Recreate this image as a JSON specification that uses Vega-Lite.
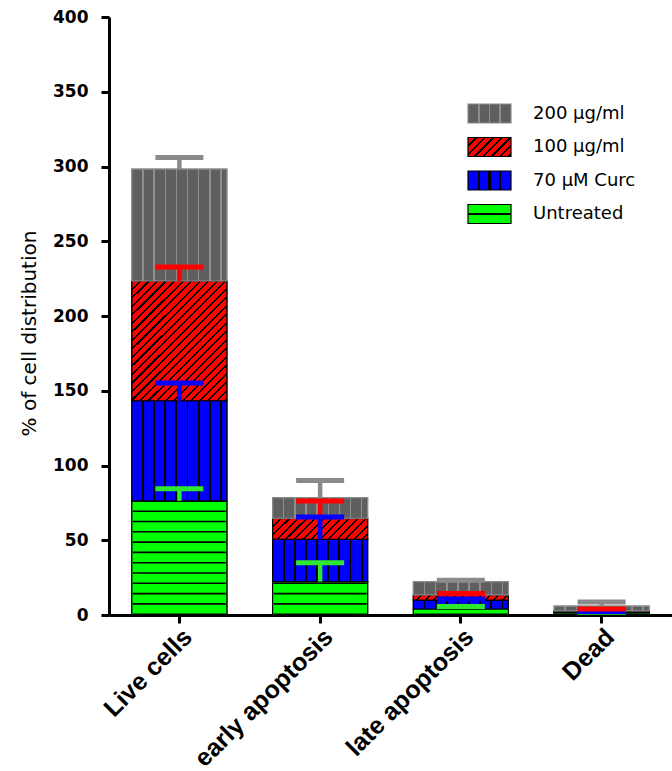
{
  "$schema": "https://vega.github.io/schema/vega-lite/v6.json",
  "width": 563,
  "height": 598,
  "autosize": {"type": "none"},
  "padding": {"left": 109, "top": 17, "right": 0, "bottom": 156},
  "background": "white",
  "data": {
    "values": [
      {"cat": "Live cells", "series": "Untreated", "rank": 1, "value": 76.3, "err": 8.2},
      {"cat": "Live cells", "series": "70 µM Curc", "rank": 2, "value": 67.0, "err": 11.9},
      {"cat": "Live cells", "series": "100 µg/ml", "rank": 3, "value": 80.1, "err": 9.4},
      {"cat": "Live cells", "series": "200 µg/ml", "rank": 4, "value": 74.9, "err": 7.7},
      {"cat": "early apoptosis", "series": "Untreated", "rank": 1, "value": 22.3, "err": 12.7},
      {"cat": "early apoptosis", "series": "70 µM Curc", "rank": 2, "value": 28.3, "err": 14.9},
      {"cat": "early apoptosis", "series": "100 µg/ml", "rank": 3, "value": 14.1, "err": 11.6},
      {"cat": "early apoptosis", "series": "200 µg/ml", "rank": 4, "value": 13.8, "err": 11.5},
      {"cat": "late apoptosis", "series": "Untreated", "rank": 1, "value": 4.0, "err": 1.7},
      {"cat": "late apoptosis", "series": "70 µM Curc", "rank": 2, "value": 6.0, "err": 0.7},
      {"cat": "late apoptosis", "series": "100 µg/ml", "rank": 3, "value": 3.4, "err": 1.0},
      {"cat": "late apoptosis", "series": "200 µg/ml", "rank": 4, "value": 8.9, "err": 1.0},
      {"cat": "Dead", "series": "Untreated", "rank": 1, "value": 1.5, "err": 0.3},
      {"cat": "Dead", "series": "70 µM Curc", "rank": 2, "value": 0.6, "err": 0.3},
      {"cat": "Dead", "series": "100 µg/ml", "rank": 3, "value": 0.6, "err": 1.3},
      {"cat": "Dead", "series": "200 µg/ml", "rank": 4, "value": 3.3, "err": 2.7}
    ]
  },
  "transform": [
    {"stack": "value", "groupby": ["cat"], "sort": [{"field": "rank", "order": "ascending"}], "as": ["y0", "y1"]},
    {"calculate": "datum.y1 + datum.err", "as": "top"}
  ],
  "encoding": {
    "x": {
      "field": "cat", "type": "nominal",
      "sort": ["Live cells", "early apoptosis", "late apoptosis", "Dead"],
      "scale": {"paddingInner": 0.325, "paddingOuter": 0.1625},
      "title": null
    }
  },
  "layer": [
    {
      "mark": {"type": "bar", "strokeWidth": 1.2},
      "encoding": {
        "y": {"field": "y1", "type": "quantitative", "scale": {"domain": [0, 400], "nice": false}, "title": "% of cell distribution",
              "axis": {"values": [0, 50, 100, 150, 200, 250, 300, 350, 400], "titleY": 316}},
        "y2": {"field": "y0"},
        "fill": {
          "field": "series", "type": "nominal",
          "scale": {
            "domain": ["200 µg/ml", "100 µg/ml", "70 µM Curc", "Untreated"],
            "range": [
              {"expr": "{gradient:'linear',x1:0,y1:0,x2:1,y2:0,stops:[{offset:0,color:'#5f5f5f'},{offset:0.23,color:'#5f5f5f'},{offset:0.23,color:'#8e8e8e'},{offset:0.27,color:'#8e8e8e'},{offset:0.27,color:'#5f5f5f'},{offset:0.48,color:'#5f5f5f'},{offset:0.48,color:'#8e8e8e'},{offset:0.52,color:'#8e8e8e'},{offset:0.52,color:'#5f5f5f'},{offset:0.73,color:'#5f5f5f'},{offset:0.73,color:'#8e8e8e'},{offset:0.77,color:'#8e8e8e'},{offset:0.77,color:'#5f5f5f'},{offset:1,color:'#5f5f5f'}]}"},
              {"expr": "{gradient:'linear',x1:0,y1:0,x2:1.206,y2:0.533,stops:[{offset:0,color:'#ff0000'},{offset:0.12,color:'#ff0000'},{offset:0.12,color:'#000000'},{offset:0.154,color:'#000000'},{offset:0.154,color:'#ff0000'},{offset:0.257,color:'#ff0000'},{offset:0.257,color:'#000000'},{offset:0.291,color:'#000000'},{offset:0.291,color:'#ff0000'},{offset:0.394,color:'#ff0000'},{offset:0.394,color:'#000000'},{offset:0.428,color:'#000000'},{offset:0.428,color:'#ff0000'},{offset:0.531,color:'#ff0000'},{offset:0.531,color:'#000000'},{offset:0.565,color:'#000000'},{offset:0.565,color:'#ff0000'},{offset:0.668,color:'#ff0000'},{offset:0.668,color:'#000000'},{offset:0.702,color:'#000000'},{offset:0.702,color:'#ff0000'},{offset:0.806,color:'#ff0000'},{offset:0.806,color:'#000000'},{offset:0.84,color:'#000000'},{offset:0.84,color:'#ff0000'},{offset:0.943,color:'#ff0000'},{offset:0.943,color:'#000000'},{offset:0.977,color:'#000000'},{offset:0.977,color:'#ff0000'},{offset:1,color:'#ff0000'}]}"},
              {"expr": "{gradient:'linear',x1:0,y1:0,x2:1,y2:0,stops:[{offset:0,color:'#0000ff'},{offset:0.225,color:'#0000ff'},{offset:0.225,color:'#000000'},{offset:0.275,color:'#000000'},{offset:0.275,color:'#0000ff'},{offset:0.475,color:'#0000ff'},{offset:0.475,color:'#000000'},{offset:0.525,color:'#000000'},{offset:0.525,color:'#0000ff'},{offset:0.725,color:'#0000ff'},{offset:0.725,color:'#000000'},{offset:0.775,color:'#000000'},{offset:0.775,color:'#0000ff'},{offset:1,color:'#0000ff'}]}"},
              {"expr": "{gradient:'linear',x1:0.5,y1:0,x2:0.5,y2:1,stops:[{offset:0,color:'#00ff00'},{offset:0.45,color:'#00ff00'},{offset:0.45,color:'#000000'},{offset:0.55,color:'#000000'},{offset:0.55,color:'#00ff00'},{offset:1,color:'#00ff00'}]}"}
            ]
          },
          "legend": {
            "orient": "none", "legendX": 370, "legendY": 86, "title": null, "padding": 0,
            "symbolType": "M-2.263,-1H2.263V1H-2.263Z", "symbolSize": 361, "symbolStrokeWidth": 1.2,
            "labelFont": "DejaVu Sans", "labelFontSize": 18, "labelColor": "#000", "labelOffset": 33, "rowPadding": 8.5
          }
        },
        "stroke": {
          "field": "series", "type": "nominal",
          "scale": {"domain": ["200 µg/ml", "100 µg/ml", "70 µM Curc", "Untreated"], "range": ["#8c8c8c", "#000000", "#000000", "#000000"]},
          "legend": {
            "orient": "none", "legendX": 370, "legendY": 86, "title": null, "padding": 0,
            "symbolType": "M-2.263,-1H2.263V1H-2.263Z", "symbolSize": 361, "symbolStrokeWidth": 1.2,
            "labelFont": "DejaVu Sans", "labelFontSize": 18, "labelColor": "#000", "labelOffset": 33, "rowPadding": 8.5
          }
        }
      }
    },
    {
      "mark": {"type": "bar", "strokeWidth": 1.2},
      "encoding": {
        "y": {"field": "y1", "type": "quantitative", "scale": {"domain": [0, 400], "nice": false}, "title": "% of cell distribution"},
        "y2": {"field": "y0"},
        "fill": {
          "condition": [
            {"test": "datum.series === '200 µg/ml'", "value": {"gradient": "linear", "x1": 0, "y1": 0, "x2": 1, "y2": 0, "stops": [
              {"offset": 0, "color": "#5f5f5f"},
              {"offset": 0.109, "color": "#5f5f5f"}, {"offset": 0.109, "color": "#8e8e8e"}, {"offset": 0.125, "color": "#8e8e8e"}, {"offset": 0.125, "color": "#5f5f5f"},
              {"offset": 0.226, "color": "#5f5f5f"}, {"offset": 0.226, "color": "#8e8e8e"}, {"offset": 0.242, "color": "#8e8e8e"}, {"offset": 0.242, "color": "#5f5f5f"},
              {"offset": 0.344, "color": "#5f5f5f"}, {"offset": 0.344, "color": "#8e8e8e"}, {"offset": 0.36, "color": "#8e8e8e"}, {"offset": 0.36, "color": "#5f5f5f"},
              {"offset": 0.461, "color": "#5f5f5f"}, {"offset": 0.461, "color": "#8e8e8e"}, {"offset": 0.477, "color": "#8e8e8e"}, {"offset": 0.477, "color": "#5f5f5f"},
              {"offset": 0.578, "color": "#5f5f5f"}, {"offset": 0.578, "color": "#8e8e8e"}, {"offset": 0.594, "color": "#8e8e8e"}, {"offset": 0.594, "color": "#5f5f5f"},
              {"offset": 0.695, "color": "#5f5f5f"}, {"offset": 0.695, "color": "#8e8e8e"}, {"offset": 0.711, "color": "#8e8e8e"}, {"offset": 0.711, "color": "#5f5f5f"},
              {"offset": 0.812, "color": "#5f5f5f"}, {"offset": 0.812, "color": "#8e8e8e"}, {"offset": 0.828, "color": "#8e8e8e"}, {"offset": 0.828, "color": "#5f5f5f"},
              {"offset": 0.93, "color": "#5f5f5f"}, {"offset": 0.93, "color": "#8e8e8e"}, {"offset": 0.946, "color": "#8e8e8e"}, {"offset": 0.946, "color": "#5f5f5f"},
              {"offset": 1, "color": "#5f5f5f"}]}},
            {"test": "datum.series === '70 µM Curc'", "value": {"gradient": "linear", "x1": 0, "y1": 0, "x2": 1, "y2": 0, "stops": [
              {"offset": 0, "color": "#0000ff"},
              {"offset": 0.107, "color": "#0000ff"}, {"offset": 0.107, "color": "#000000"}, {"offset": 0.127, "color": "#000000"}, {"offset": 0.127, "color": "#0000ff"},
              {"offset": 0.224, "color": "#0000ff"}, {"offset": 0.224, "color": "#000000"}, {"offset": 0.244, "color": "#000000"}, {"offset": 0.244, "color": "#0000ff"},
              {"offset": 0.342, "color": "#0000ff"}, {"offset": 0.342, "color": "#000000"}, {"offset": 0.362, "color": "#000000"}, {"offset": 0.362, "color": "#0000ff"},
              {"offset": 0.459, "color": "#0000ff"}, {"offset": 0.459, "color": "#000000"}, {"offset": 0.479, "color": "#000000"}, {"offset": 0.479, "color": "#0000ff"},
              {"offset": 0.576, "color": "#0000ff"}, {"offset": 0.576, "color": "#000000"}, {"offset": 0.596, "color": "#000000"}, {"offset": 0.596, "color": "#0000ff"},
              {"offset": 0.693, "color": "#0000ff"}, {"offset": 0.693, "color": "#000000"}, {"offset": 0.713, "color": "#000000"}, {"offset": 0.713, "color": "#0000ff"},
              {"offset": 0.81, "color": "#0000ff"}, {"offset": 0.81, "color": "#000000"}, {"offset": 0.83, "color": "#000000"}, {"offset": 0.83, "color": "#0000ff"},
              {"offset": 0.928, "color": "#0000ff"}, {"offset": 0.928, "color": "#000000"}, {"offset": 0.948, "color": "#000000"}, {"offset": 0.948, "color": "#0000ff"},
              {"offset": 1, "color": "#0000ff"}]}},
            {"test": "datum.series === 'Untreated'", "value": "#00ff00"},
            {"test": "datum.cat === 'Live cells'", "value": {"gradient": "linear", "x1": 0, "y1": 0, "x2": 0.8703, "y2": 1.1025, "stops": [
              {"offset": 0, "color": "#ff0000"},
              {"offset": 0.0347, "color": "#ff0000"}, {"offset": 0.0347, "color": "#000000"}, {"offset": 0.0447, "color": "#000000"}, {"offset": 0.0447, "color": "#ff0000"},
              {"offset": 0.0744, "color": "#ff0000"}, {"offset": 0.0744, "color": "#000000"}, {"offset": 0.0844, "color": "#000000"}, {"offset": 0.0844, "color": "#ff0000"},
              {"offset": 0.114, "color": "#ff0000"}, {"offset": 0.114, "color": "#000000"}, {"offset": 0.124, "color": "#000000"}, {"offset": 0.124, "color": "#ff0000"},
              {"offset": 0.1537, "color": "#ff0000"}, {"offset": 0.1537, "color": "#000000"}, {"offset": 0.1637, "color": "#000000"}, {"offset": 0.1637, "color": "#ff0000"},
              {"offset": 0.1934, "color": "#ff0000"}, {"offset": 0.1934, "color": "#000000"}, {"offset": 0.2034, "color": "#000000"}, {"offset": 0.2034, "color": "#ff0000"},
              {"offset": 0.2331, "color": "#ff0000"}, {"offset": 0.2331, "color": "#000000"}, {"offset": 0.2431, "color": "#000000"}, {"offset": 0.2431, "color": "#ff0000"},
              {"offset": 0.2728, "color": "#ff0000"}, {"offset": 0.2728, "color": "#000000"}, {"offset": 0.2828, "color": "#000000"}, {"offset": 0.2828, "color": "#ff0000"},
              {"offset": 0.3124, "color": "#ff0000"}, {"offset": 0.3124, "color": "#000000"}, {"offset": 0.3224, "color": "#000000"}, {"offset": 0.3224, "color": "#ff0000"},
              {"offset": 0.3521, "color": "#ff0000"}, {"offset": 0.3521, "color": "#000000"}, {"offset": 0.3621, "color": "#000000"}, {"offset": 0.3621, "color": "#ff0000"},
              {"offset": 0.3918, "color": "#ff0000"}, {"offset": 0.3918, "color": "#000000"}, {"offset": 0.4018, "color": "#000000"}, {"offset": 0.4018, "color": "#ff0000"},
              {"offset": 0.4315, "color": "#ff0000"}, {"offset": 0.4315, "color": "#000000"}, {"offset": 0.4415, "color": "#000000"}, {"offset": 0.4415, "color": "#ff0000"},
              {"offset": 0.4712, "color": "#ff0000"}, {"offset": 0.4712, "color": "#000000"}, {"offset": 0.4812, "color": "#000000"}, {"offset": 0.4812, "color": "#ff0000"},
              {"offset": 0.5108, "color": "#ff0000"}, {"offset": 0.5108, "color": "#000000"}, {"offset": 0.5208, "color": "#000000"}, {"offset": 0.5208, "color": "#ff0000"},
              {"offset": 0.5505, "color": "#ff0000"}, {"offset": 0.5505, "color": "#000000"}, {"offset": 0.5605, "color": "#000000"}, {"offset": 0.5605, "color": "#ff0000"},
              {"offset": 0.5902, "color": "#ff0000"}, {"offset": 0.5902, "color": "#000000"}, {"offset": 0.6002, "color": "#000000"}, {"offset": 0.6002, "color": "#ff0000"},
              {"offset": 0.6299, "color": "#ff0000"}, {"offset": 0.6299, "color": "#000000"}, {"offset": 0.6399, "color": "#000000"}, {"offset": 0.6399, "color": "#ff0000"},
              {"offset": 0.6696, "color": "#ff0000"}, {"offset": 0.6696, "color": "#000000"}, {"offset": 0.6796, "color": "#000000"}, {"offset": 0.6796, "color": "#ff0000"},
              {"offset": 0.7092, "color": "#ff0000"}, {"offset": 0.7092, "color": "#000000"}, {"offset": 0.7192, "color": "#000000"}, {"offset": 0.7192, "color": "#ff0000"},
              {"offset": 0.7489, "color": "#ff0000"}, {"offset": 0.7489, "color": "#000000"}, {"offset": 0.7589, "color": "#000000"}, {"offset": 0.7589, "color": "#ff0000"},
              {"offset": 0.7886, "color": "#ff0000"}, {"offset": 0.7886, "color": "#000000"}, {"offset": 0.7986, "color": "#000000"}, {"offset": 0.7986, "color": "#ff0000"},
              {"offset": 0.8283, "color": "#ff0000"}, {"offset": 0.8283, "color": "#000000"}, {"offset": 0.8383, "color": "#000000"}, {"offset": 0.8383, "color": "#ff0000"},
              {"offset": 0.868, "color": "#ff0000"}, {"offset": 0.868, "color": "#000000"}, {"offset": 0.878, "color": "#000000"}, {"offset": 0.878, "color": "#ff0000"},
              {"offset": 0.9076, "color": "#ff0000"}, {"offset": 0.9076, "color": "#000000"}, {"offset": 0.9176, "color": "#000000"}, {"offset": 0.9176, "color": "#ff0000"},
              {"offset": 0.9473, "color": "#ff0000"}, {"offset": 0.9473, "color": "#000000"}, {"offset": 0.9573, "color": "#000000"}, {"offset": 0.9573, "color": "#ff0000"},
              {"offset": 0.987, "color": "#ff0000"}, {"offset": 0.987, "color": "#000000"}, {"offset": 0.997, "color": "#000000"}, {"offset": 0.997, "color": "#ff0000"},
              {"offset": 1, "color": "#ff0000"}]}},
            {"test": "datum.cat === 'early apoptosis'", "value": {"gradient": "linear", "x1": 0, "y1": 0, "x2": 1.1652, "y2": 0.2602, "stops": [
              {"offset": 0, "color": "#ff0000"},
              {"offset": 0.0645, "color": "#ff0000"}, {"offset": 0.0645, "color": "#000000"}, {"offset": 0.0825, "color": "#000000"}, {"offset": 0.0825, "color": "#ff0000"},
              {"offset": 0.1381, "color": "#ff0000"}, {"offset": 0.1381, "color": "#000000"}, {"offset": 0.1561, "color": "#000000"}, {"offset": 0.1561, "color": "#ff0000"},
              {"offset": 0.2116, "color": "#ff0000"}, {"offset": 0.2116, "color": "#000000"}, {"offset": 0.2296, "color": "#000000"}, {"offset": 0.2296, "color": "#ff0000"},
              {"offset": 0.2851, "color": "#ff0000"}, {"offset": 0.2851, "color": "#000000"}, {"offset": 0.3031, "color": "#000000"}, {"offset": 0.3031, "color": "#ff0000"},
              {"offset": 0.3586, "color": "#ff0000"}, {"offset": 0.3586, "color": "#000000"}, {"offset": 0.3766, "color": "#000000"}, {"offset": 0.3766, "color": "#ff0000"},
              {"offset": 0.4322, "color": "#ff0000"}, {"offset": 0.4322, "color": "#000000"}, {"offset": 0.4502, "color": "#000000"}, {"offset": 0.4502, "color": "#ff0000"},
              {"offset": 0.5057, "color": "#ff0000"}, {"offset": 0.5057, "color": "#000000"}, {"offset": 0.5237, "color": "#000000"}, {"offset": 0.5237, "color": "#ff0000"},
              {"offset": 0.5792, "color": "#ff0000"}, {"offset": 0.5792, "color": "#000000"}, {"offset": 0.5972, "color": "#000000"}, {"offset": 0.5972, "color": "#ff0000"},
              {"offset": 0.6528, "color": "#ff0000"}, {"offset": 0.6528, "color": "#000000"}, {"offset": 0.6708, "color": "#000000"}, {"offset": 0.6708, "color": "#ff0000"},
              {"offset": 0.7263, "color": "#ff0000"}, {"offset": 0.7263, "color": "#000000"}, {"offset": 0.7443, "color": "#000000"}, {"offset": 0.7443, "color": "#ff0000"},
              {"offset": 0.7998, "color": "#ff0000"}, {"offset": 0.7998, "color": "#000000"}, {"offset": 0.8178, "color": "#000000"}, {"offset": 0.8178, "color": "#ff0000"},
              {"offset": 0.8734, "color": "#ff0000"}, {"offset": 0.8734, "color": "#000000"}, {"offset": 0.8914, "color": "#000000"}, {"offset": 0.8914, "color": "#ff0000"},
              {"offset": 0.9469, "color": "#ff0000"}, {"offset": 0.9469, "color": "#000000"}, {"offset": 0.9649, "color": "#000000"}, {"offset": 0.9649, "color": "#ff0000"},
              {"offset": 1, "color": "#ff0000"}]}},
            {"test": "datum.cat === 'late apoptosis'", "value": {"gradient": "linear", "x1": 0, "y1": 0, "x2": 1.0509, "y2": 0.0567, "stops": [
              {"offset": 0, "color": "#ff0000"},
              {"offset": 0.0748, "color": "#ff0000"}, {"offset": 0.0748, "color": "#000000"}, {"offset": 0.0958, "color": "#000000"}, {"offset": 0.0958, "color": "#ff0000"},
              {"offset": 0.1602, "color": "#ff0000"}, {"offset": 0.1602, "color": "#000000"}, {"offset": 0.1812, "color": "#000000"}, {"offset": 0.1812, "color": "#ff0000"},
              {"offset": 0.2455, "color": "#ff0000"}, {"offset": 0.2455, "color": "#000000"}, {"offset": 0.2665, "color": "#000000"}, {"offset": 0.2665, "color": "#ff0000"},
              {"offset": 0.3309, "color": "#ff0000"}, {"offset": 0.3309, "color": "#000000"}, {"offset": 0.3519, "color": "#000000"}, {"offset": 0.3519, "color": "#ff0000"},
              {"offset": 0.4162, "color": "#ff0000"}, {"offset": 0.4162, "color": "#000000"}, {"offset": 0.4372, "color": "#000000"}, {"offset": 0.4372, "color": "#ff0000"},
              {"offset": 0.5015, "color": "#ff0000"}, {"offset": 0.5015, "color": "#000000"}, {"offset": 0.5225, "color": "#000000"}, {"offset": 0.5225, "color": "#ff0000"},
              {"offset": 0.5869, "color": "#ff0000"}, {"offset": 0.5869, "color": "#000000"}, {"offset": 0.6079, "color": "#000000"}, {"offset": 0.6079, "color": "#ff0000"},
              {"offset": 0.6722, "color": "#ff0000"}, {"offset": 0.6722, "color": "#000000"}, {"offset": 0.6932, "color": "#000000"}, {"offset": 0.6932, "color": "#ff0000"},
              {"offset": 0.7576, "color": "#ff0000"}, {"offset": 0.7576, "color": "#000000"}, {"offset": 0.7786, "color": "#000000"}, {"offset": 0.7786, "color": "#ff0000"},
              {"offset": 0.8429, "color": "#ff0000"}, {"offset": 0.8429, "color": "#000000"}, {"offset": 0.8639, "color": "#000000"}, {"offset": 0.8639, "color": "#ff0000"},
              {"offset": 0.9282, "color": "#ff0000"}, {"offset": 0.9282, "color": "#000000"}, {"offset": 0.9492, "color": "#000000"}, {"offset": 0.9492, "color": "#ff0000"},
              {"offset": 1, "color": "#ff0000"}]}}
          ],
          "value": "#ff0000"
        },
        "stroke": {"condition": {"test": "datum.series === '200 µg/ml'", "value": "#8c8c8c"}, "value": "#000000"}
      }
    },
    {
      "transform": [{"filter": "datum.series === 'Untreated'"}],
      "mark": {"type": "rule", "strokeWidth": 93, "strokeDash": [1.6, 8.7], "strokeCap": "butt", "color": "#000000"},
      "encoding": {
        "y": {"field": "y0", "type": "quantitative", "scale": {"domain": [0, 400], "nice": false}, "title": "% of cell distribution"},
        "y2": {"field": "y1"}
      }
    },
    {
      "mark": {"type": "rule", "strokeWidth": 4.5, "opacity": 1},
      "encoding": {
        "y": {"field": "y1", "type": "quantitative", "scale": {"domain": [0, 400], "nice": false}, "title": "% of cell distribution"},
        "y2": {"field": "top"},
        "color": {"field": "series", "type": "nominal",
                  "scale": {"domain": ["200 µg/ml", "100 µg/ml", "70 µM Curc", "Untreated"], "range": ["#8a8a8a", "#ff0000", "#0000ff", "#2ee82e"]},
                  "legend": null}
      }
    },
    {
      "mark": {"type": "tick", "thickness": 5, "size": 48, "orient": "horizontal", "opacity": 1, "filled": true},
      "encoding": {
        "y": {"field": "top", "type": "quantitative", "scale": {"domain": [0, 400], "nice": false}, "title": "% of cell distribution"},
        "color": {"field": "series", "type": "nominal",
                  "scale": {"domain": ["200 µg/ml", "100 µg/ml", "70 µM Curc", "Untreated"], "range": ["#8a8a8a", "#ff0000", "#0000ff", "#2ee82e"]},
                  "legend": null}
      }
    }
  ],
  "config": {
    "view": {"stroke": null},
    "axis": {"domainColor": "#000000", "domainWidth": 3, "tickColor": "#000000", "tickWidth": 3, "tickSize": 8, "grid": false, "labelColor": "#000000", "titleColor": "#000000"},
    "axisX": {"labelFont": "Liberation Sans", "labelFontWeight": "bold", "labelFontSize": 25, "labelAngle": -45, "labelAlign": "right", "labelBaseline": "top", "labelPadding": 1, "labelLimit": 0},
    "axisY": {"labelFont": "DejaVu Sans", "labelFontWeight": "bold", "labelFontSize": 17, "labelPadding": 13, "titleFont": "DejaVu Sans", "titleFontSize": 20, "titleFontWeight": "normal", "titlePadding": 13}
  }
}
